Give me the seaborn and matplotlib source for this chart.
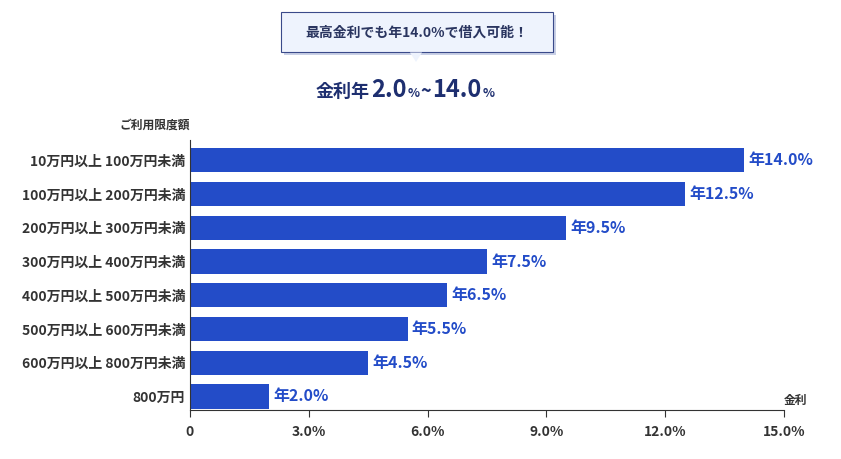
import matplotlib
matplotlib.use("Agg")
import matplotlib.pyplot as plt
import seaborn as sns
import pandas as pd
from matplotlib.patches import Polygon

plt.rcParams["font.family"] = "Noto Sans CJK JP"

categories = ["10万円以上 100万円未満", "100万円以上 200万円未満", "200万円以上 300万円未満",
              "300万円以上 400万円未満", "400万円以上 500万円未満", "500万円以上 600万円未満",
              "600万円以上 800万円未満", "800万円"]
rates = [14.0, 12.5, 9.5, 7.5, 6.5, 5.5, 4.5, 2.0]
labels = ["年14.0%", "年12.5%", "年9.5%", "年7.5%", "年6.5%", "年5.5%", "年4.5%", "年2.0%"]
xticks = [0, 3, 6, 9, 12, 15]
xticklabels = ["0", "3.0%", "6.0%", "9.0%", "12.0%", "15.0%"]

df = pd.DataFrame({"cat": categories, "rate": rates})
blue = "#234cc8"
dark = "#1e2f70"

fig = plt.figure(figsize=(8.41, 4.59), dpi=100)
ax = fig.add_axes([190/841, 1-410/459, 594/841, 270/459])
sns.barplot(data=df, x="rate", y="cat", color=blue, saturation=1, width=0.72, ax=ax)
ax.set_xlim(0, 15)
ax.set_ylim(7.4, -0.6)
ax.set_xticks(xticks)
ax.set_xticklabels(xticklabels, fontsize=10, color="#333333", fontweight="bold")
ax.tick_params(axis="y", length=0, labelsize=10, labelcolor="#333333")
for t in ax.get_yticklabels():
    t.set_fontweight("bold")
ax.tick_params(axis="x", length=5, color="#333333", pad=6)
ax.set_xlabel(""); ax.set_ylabel("")
for s in ["top", "right"]:
    ax.spines[s].set_visible(False)
ax.spines["left"].set_color("#333333")
ax.spines["bottom"].set_color("#333333")
for i, (v, l) in enumerate(zip(rates, labels)):
    ax.text(v + 0.1, i, l, va="center", ha="left", color=blue, fontsize=11.5, fontweight="bold")
ax.text(0, 1.03, "ご利用限度額", transform=ax.transAxes, ha="right", va="bottom",
        fontsize=8.5, color="#333333", fontweight="bold")
ax.text(1.0, 0.01, "金利", transform=ax.transAxes, ha="left", va="bottom",
        fontsize=8.5, color="#333333", fontweight="bold")

def fx(x): return x/841
def fy(y): return 1-y/459
fig.patches.append(plt.Rectangle((fx(284), fy(55)), fx(272), 40/459, transform=fig.transFigure,
                                 facecolor="#c9d0e6", edgecolor="none"))
fig.patches.append(plt.Rectangle((fx(281), fy(52)), fx(272), 40/459, transform=fig.transFigure,
                                 facecolor="#eef3fd", edgecolor="#3a4a8a", lw=0.8))
fig.patches.append(Polygon([(fx(410), fy(52.5)), (fx(416), fy(62)), (fx(422), fy(52.5))],
                           transform=fig.transFigure, facecolor="#eef3fd", edgecolor="none"))
fig.text(fx(417), fy(33), "最高金利でも年14.0%で借入可能！", ha="center", va="center",
         fontsize=10, fontweight="bold", color="#2a3560")

# headline built piece by piece
fig.canvas.draw()
r = fig.canvas.get_renderer()
pieces = [("金利年", 13), ("2.0", 17), ("%", 9), ("~", 13), ("14.0", 17), ("%", 9)]
x = 316
for txt, fs in pieces:
    t = fig.text(fx(x), fy(97), txt, ha="left", va="baseline", fontsize=fs,
                 fontweight="bold", color=dark)
    w = t.get_window_extent(renderer=r).width
    x += w + 1

fig.savefig("out.png", dpi=100)
